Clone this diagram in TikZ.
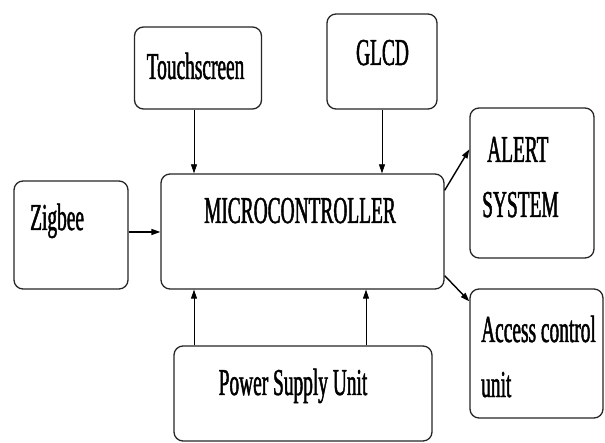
\documentclass[tikz,border=0pt]{standalone}
\usepackage{fontspec}
\usetikzlibrary{arrows.meta}
\newfontfamily\narrowserif[FakeStretch=0.51,FakeBold=1.2]{Liberation Serif}

\tikzset{
  block/.style={draw=black!85,line width=1.3pt,rounded corners=9pt,fill=white},
  blocktext/.style={font=\narrowserif\fontsize{38}{55}\selectfont,inner sep=0pt,text=black},
  link/.style={-{Triangle[length=9pt,width=6pt]},line width=0.8pt},
  boldlink/.style={link,line width=1.4pt}
}

\begin{document}
\begin{tikzpicture}[x=1pt,y=-1pt]
  \useasboundingbox[fill=white] (0,0) rectangle (605,443);

  % blocks
  \node[block,minimum width=127,minimum height=82] (touch) at (198,68) {};
  \node[block,minimum width=110,minimum height=95] (glcd) at (382,61.5) {};
  \node[block,minimum width=283,minimum height=115] (micro) at (302.5,231.5) {};
  \node[block,minimum width=114,minimum height=108] (zigbee) at (71,235) {};
  \node[block,minimum width=124,minimum height=150] (alert) at (532,183) {};
  \node[block,minimum width=133,minimum height=129] (access) at (536.5,353.5) {};
  \node[block,minimum width=258,minimum height=95] (power) at (303,393.5) {};

  % texts
  \node[blocktext,anchor=base] (touch-text) at (195.5,79) {Touchscreen};
  \node[blocktext,anchor=base] (glcd-text) at (382.5,65) {GLCD};
  \node[blocktext,anchor=base] (micro-text) at (300,223) {MICROCONTROLLER};
  \node[blocktext,anchor=base west] (zigbee-text) at (30,230) {Zigbee};
  \node[blocktext,anchor=base west,align=left] (alert-text) at (482,217) {\hspace*{5pt}ALERT\\SYSTEM};
  \node[blocktext,anchor=base west,align=left] (access-text) at (481,397) {Access control\\unit};
  \node[blocktext,anchor=base] (power-text) at (293,395) {Power Supply Unit};

  % connections
  \draw[link] ([xshift=-4]touch.south) -- ([xshift=-4]touch.south |- micro.north);
  \draw[link] (glcd.south) -- (glcd.south |- micro.north);
  \draw[boldlink] ([yshift=3]zigbee.east) -- ([yshift=3]zigbee.east -| micro.west);
  \draw[link] ([xshift=-109]power.north) -- ([xshift=-109]power.north |- micro.south);
  \draw[link] ([xshift=63]power.north) -- ([xshift=63]power.north |- micro.south);
  \draw[boldlink] ([yshift=-17]micro.north east) -- ([yshift=-42]alert.north west);
  \draw[boldlink] ([yshift=14]micro.south east) -- ([yshift=-13]access.north west);
\end{tikzpicture}
\end{document}
